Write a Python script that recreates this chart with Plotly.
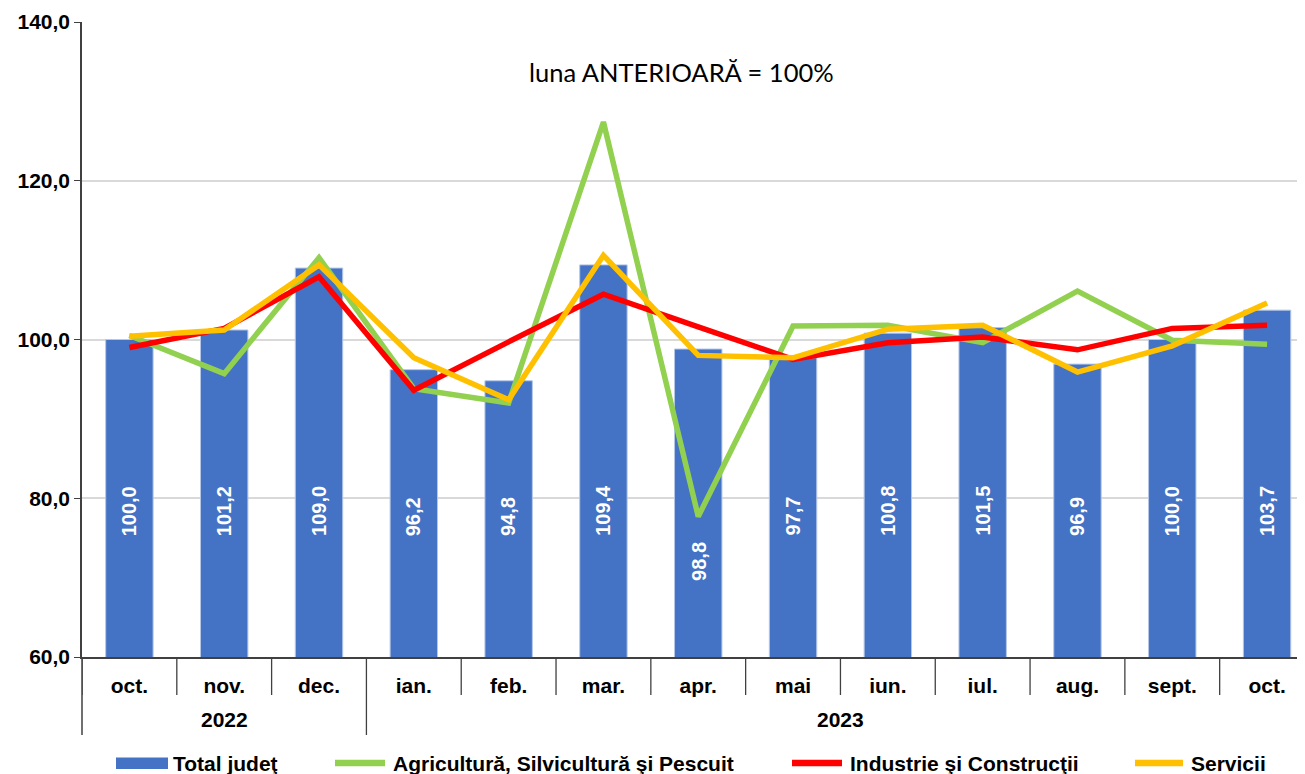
import plotly.graph_objects as go

months = ["oct.", "nov.", "dec.", "ian.", "feb.", "mar.", "apr.", "mai", "iun.", "iul.", "aug.", "sept.", "oct."]
years = ["2022", "2023"]
year_spans = [(0, 2), (3, 12)]

total = [100.0, 101.2, 109.0, 96.2, 94.8, 109.4, 98.8, 97.7, 100.8, 101.5, 96.9, 100.0, 103.7]
agri = [100.5, 95.7, 110.3, 93.8, 92.0, 127.4, 77.7, 101.7, 101.8, 99.6, 106.1, 99.9, 99.4]
ind = [99.0, 101.4, 107.9, 93.6, 99.7, 105.7, 101.6, 97.5, 99.6, 100.3, 98.7, 101.4, 101.8]
serv = [100.4, 101.2, 109.4, 97.7, 92.4, 110.6, 98.0, 97.7, 101.3, 101.8, 95.9, 99.2, 104.6]

names = ["Total judeţ", "Agricultură, Silvicultură şi Pescuit", "Industrie şi Construcţii", "Servicii"]
colors = ["#4472C4", "#92D050", "#FF0000", "#FFC000"]
title_text = "luna ANTERIOARĂ = 100%"

FONT = "Liberation Sans"
OFF = 8  # default page body margin
W, H = 1305 - OFF, 774 - OFF
ML, MT = 82 - OFF, 22 - OFF
PLOT_BOTTOM = 657 - OFF
MB = H - PLOT_BOTTOM
PW, PH = W - ML, H - MT - MB


def px_x(p):
    return (p - OFF - ML) / PW


def px_y(p):
    return (PLOT_BOTTOM - (p - OFF)) / PH


x = list(range(len(months)))

fig = go.Figure()
fig.add_trace(go.Bar(x=x, y=total, name=names[0], marker=dict(color=colors[0], line=dict(color="#B4C7E7", width=1)),
                     width=0.5, showlegend=False))
for ys, nm, c in zip([agri, ind, serv], names[1:], colors[1:]):
    fig.add_trace(go.Scatter(x=x, y=ys, name=nm, mode="lines", line=dict(color=c, width=5.5), showlegend=False))

annotations = []
label_base = 75.0
for i, v in enumerate(total):
    yb = 69.3 if months[i] == "apr." else label_base
    annotations.append(dict(x=i, y=yb, xref="x", yref="y", text=f"{v:.1f}".replace(".", ","),
                            textangle=-90, showarrow=False, yanchor="bottom", xanchor="center",
                            font=dict(family=FONT, size=20, color="white", weight="bold")))
annotations.append(dict(x=px_x(681), y=px_y(72), xref="paper", yref="paper", text=title_text, showarrow=False,
                        xanchor="center", yanchor="middle",
                        font=dict(family="Lato", size=25.5, color="#000000")))
for (a, b), yr in zip(year_spans, years):
    annotations.append(dict(x=(a + b) / 2, y=px_y(719), xref="x", yref="paper", text=yr, showarrow=False,
                            yanchor="middle", font=dict(family=FONT, size=21, color="black", weight="bold")))

shapes = []
sep_col = "#404040"
for k in range(len(months) + 1):
    shapes.append(dict(type="line", xref="x", yref="paper", x0=k - 0.5, x1=k - 0.5, y0=0, y1=px_y(695),
                       line=dict(color=sep_col, width=1.3)))
shapes.append(dict(type="line", xref="paper", yref="paper", x0=0, x1=0, y0=0, y1=px_y(735),
                   line=dict(color=sep_col, width=1.5)))
for (a, b) in year_spans:
    shapes.append(dict(type="line", xref="x", yref="paper", x0=b + 0.5, x1=b + 0.5, y0=px_y(695), y1=px_y(735),
                       line=dict(color=sep_col, width=1.3)))

# legend (drawn manually to match the original's long swatches)
leg_sym = [(116, 168), (332, 388), (789, 845), (1132, 1186)]
leg_y = 763
for i, ((s0, s1), nm, c) in enumerate(zip(leg_sym, names, colors)):
    if i == 0:
        shapes.append(dict(type="rect", xref="paper", yref="paper", x0=px_x(s0), x1=px_x(s1),
                           y0=px_y(769), y1=px_y(757.5), fillcolor=c, line=dict(width=0)))
    else:
        shapes.append(dict(type="line", xref="paper", yref="paper", x0=px_x(s0 + 3), x1=px_x(s1 - 3),
                           y0=px_y(leg_y), y1=px_y(leg_y), line=dict(color=c, width=6.5)))
    annotations.append(dict(x=px_x(s1 + 3), y=px_y(leg_y), xref="paper", yref="paper", text=nm, showarrow=False,
                            xanchor="left", yanchor="middle",
                            font=dict(family=FONT, size=21, color="black", weight="bold")))

fig.update_layout(
    width=W, height=H,
    margin=dict(l=ML, r=0, t=MT, b=MB, autoexpand=False),
    paper_bgcolor="white", plot_bgcolor="white",
    separators=",.",
    bargap=0.5,
    showlegend=False,
    annotations=annotations,
    shapes=shapes,
    xaxis=dict(range=[-0.5, 12.4], tickmode="array", tickvals=x, ticktext=months, showgrid=False,
               showline=True, linecolor=sep_col, linewidth=1.5, ticks="", ticklabelstandoff=9, automargin=False,
               tickfont=dict(family=FONT, size=21, color="black", weight="bold"), zeroline=False),
    yaxis=dict(range=[60, 140], tickvals=[60, 80, 100, 120, 140], tickformat=".1f", showgrid=True,
               gridcolor="#D9D9D9", gridwidth=1.5, showline=True, linecolor=sep_col, linewidth=1.5,
               ticks="outside", ticklen=6, tickcolor=sep_col, automargin=False,
               tickfont=dict(family=FONT, size=21, color="black", weight="bold"), zeroline=False),
)

fig.write_html("out.html")
